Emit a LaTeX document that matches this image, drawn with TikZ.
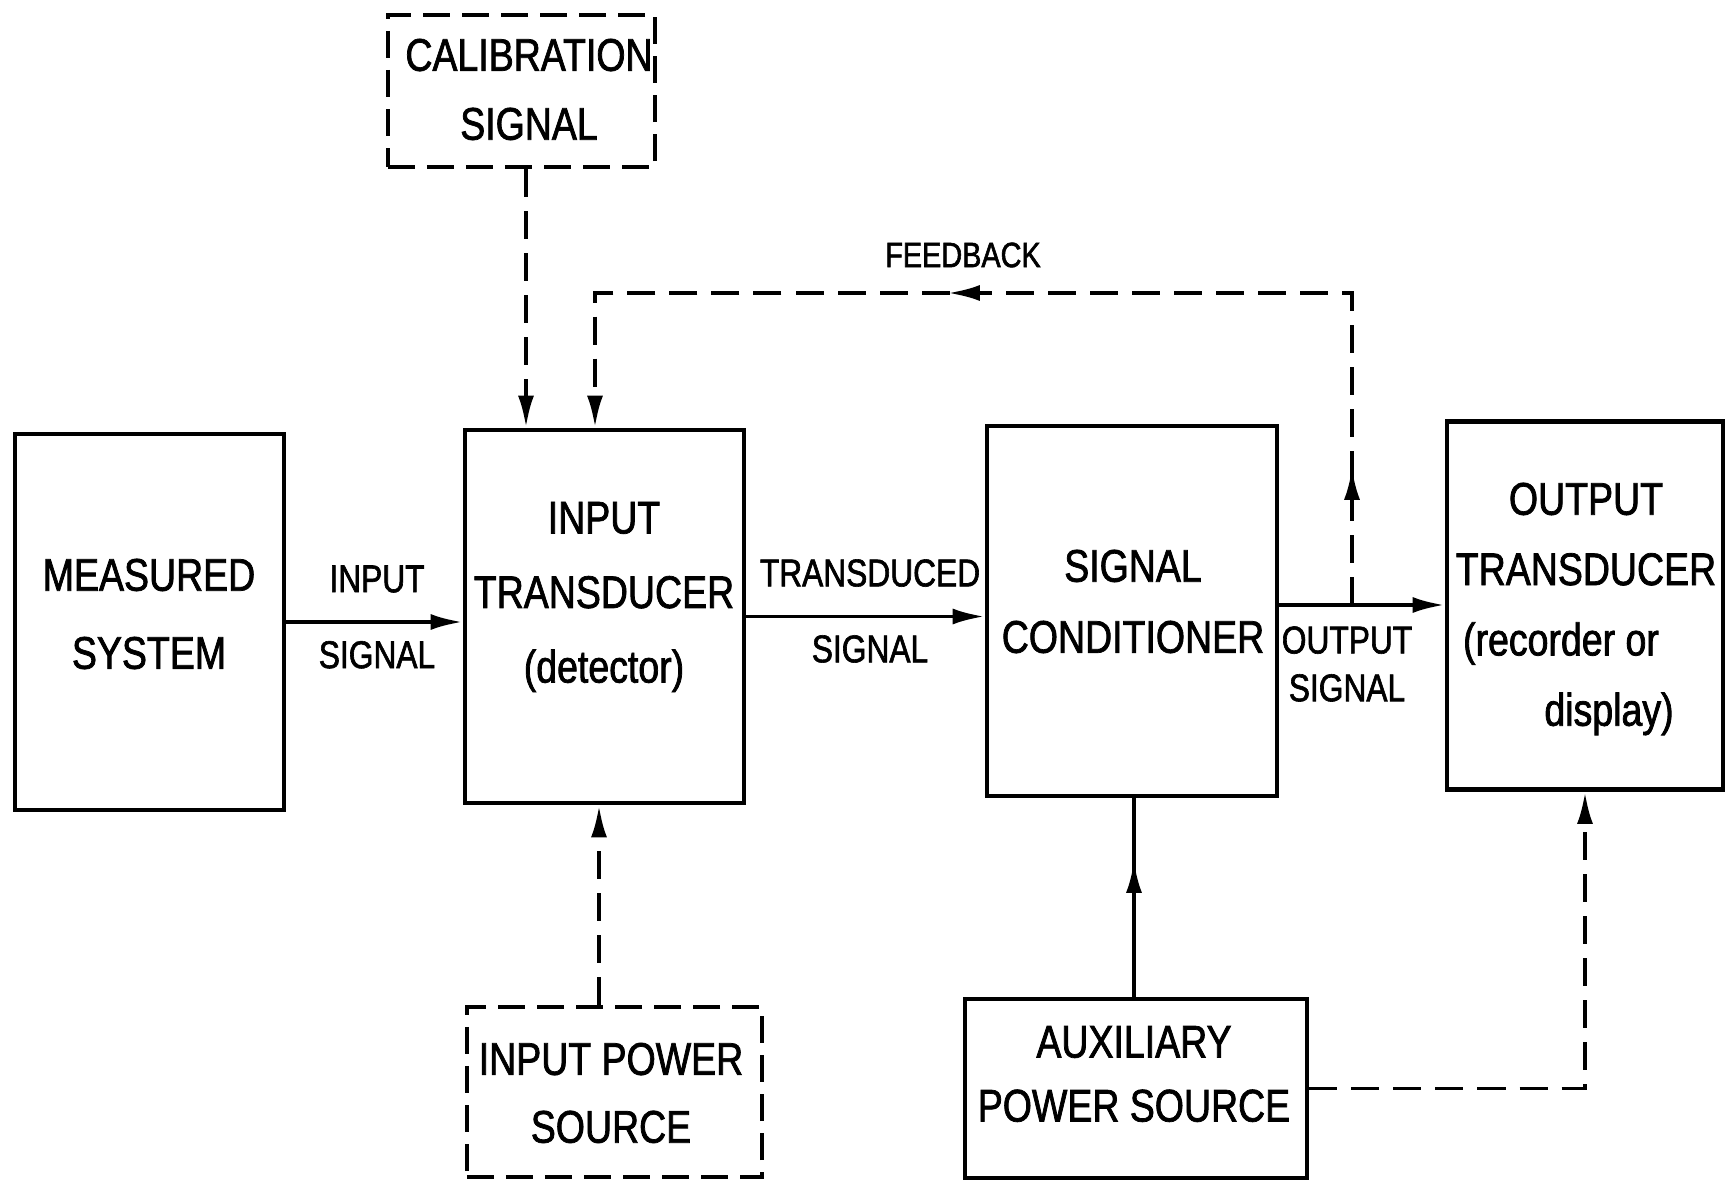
\documentclass[tikz,border=0pt]{standalone}
\usepackage{fontspec}
\setmainfont[FakeStretch=0.82,FakeBold=1.6]{Liberation Sans}
\usetikzlibrary{arrows.meta,decorations.markings}
\begin{document}
\begin{tikzpicture}[x=0.01cm,y=-0.01cm,
  box/.style={draw, line width=1.3pt, inner sep=0pt},
  dbox/.style={box, dash pattern=on 0.27cm off 0.12cm},
  txt/.style={font=\fontsize{13}{#1}\selectfont, align=center, inner sep=0pt},
  lbl/.style={font=\fontsize{11}{#1}\selectfont, align=center, inner sep=0pt},
  conn/.style={line width=1.1pt},
  dconn/.style={conn, dash pattern=on 0.28cm off 0.14cm},
  tip/.style={-{Latex[length=0.32cm,width=0.16cm]}}
]
\fill[white] (0,0) rectangle (1729,1182);
\useasboundingbox (0,0) rectangle (1729,1182);

% boxes
\node[box, minimum width=2.69cm, minimum height=3.76cm] (ms) at (149.5,622) {};
\node[box, minimum width=2.79cm, minimum height=3.73cm] (it) at (604.5,616.5) {};
\node[box, minimum width=2.90cm, minimum height=3.70cm] (sc) at (1132,611) {};
\node[box, minimum width=2.76cm, minimum height=3.68cm] (ot) at (1585,605.5) {};
\node[dbox, minimum width=2.67cm, minimum height=1.52cm] (cal) at (521.5,91) {};
\node[dbox, minimum width=2.95cm, minimum height=1.70cm] (ips) at (614.5,1092) {};
\node[box, minimum width=3.42cm, minimum height=1.79cm] (aux) at (1136,1088.5) {};

% box texts
\node[txt=22.2pt] (ms-t) at (149,614) {MEASURED\\SYSTEM};
\node[txt=21.2pt] (it-t) at (604,597) {INPUT\\TRANSDUCER\\(detector)};
\node[txt=20.2pt] (sc-t) at (1133,601.5) {SIGNAL\\CONDITIONER};
\node[txt=20pt] (ot-t) at (1586,609) {OUTPUT\\TRANSDUCER\\(recorder or\makebox[0.5cm]{}\\\hspace*{0.46cm}display)};
\node[txt=19.6pt] (cal-t) at (529,89.5) {CALIBRATION\\SIGNAL};
\node[txt=19.3pt] (ips-t) at (611,1093) {INPUT POWER\\SOURCE};
\node[txt=18.2pt] (aux-t) at (1134,1074) {AUXILIARY\\POWER SOURCE};

% connector labels
\node[lbl=21.6pt] (insig) at (377,617) {INPUT\\SIGNAL};
\node[lbl=21.6pt] (trsig) at (870,611) {TRANSDUCED\\SIGNAL};
\node[lbl=13.6pt] (outsig) at (1347,664) {OUTPUT\\SIGNAL};
\node[font=\fontsize{10}{12}\selectfont, inner sep=0pt] (fb) at (963,255) {FEEDBACK};

% helper coordinates
\coordinate (calx) at (526,0);
\coordinate (fbx) at (595,0);
\coordinate (fbr) at (1352,0);
\coordinate (fby) at (0,293);
\coordinate (osy) at (0,605);
\coordinate (ipx) at (599,0);
\coordinate (auxx) at (1134,0);

% connectors
\draw[conn,tip] (ms.east) -- (ms.east -| it.west);
\draw[conn,tip] (it.east) -- (it.east -| sc.west);
\draw[conn,tip] (sc.east |- osy) -- (ot.west |- osy);
\draw[dconn,tip] (calx |- cal.south) -- (calx |- it.north);
\draw[dconn,tip] (ipx |- ips.north) -- (ipx |- it.south);
\draw[conn, postaction={decorate}, decoration={markings,
  mark=at position 0.685 with {\arrow{Latex[length=0.32cm,width=0.16cm]}}}]
  (auxx |- aux.north) -- (auxx |- sc.south);
\draw[dconn,tip] (aux.east) -| (ot.south);
\draw[dconn,tip, postaction={decorate}, decoration={markings,
  mark=at position 0.114 with {\arrow{Latex[length=0.32cm,width=0.16cm]}},
  mark=at position 0.595 with {\arrow{Latex[length=0.32cm,width=0.16cm]}}}]
  (fbr |- osy) -- (fbr |- fby) -- (fbx |- fby) -- (fbx |- it.north);
\end{tikzpicture}
\end{document}
